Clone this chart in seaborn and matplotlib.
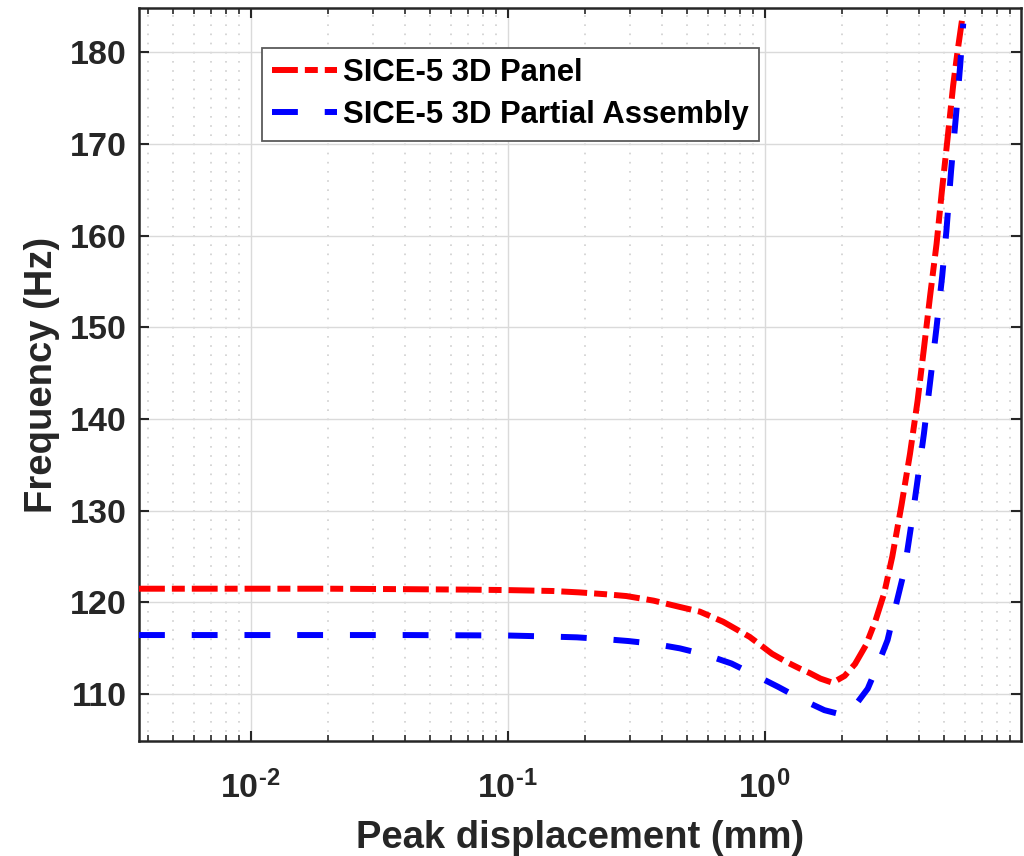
import matplotlib
matplotlib.use("Agg")
import matplotlib.pyplot as plt
import numpy as np
import pandas as pd
import seaborn as sns
from matplotlib.ticker import LogLocator, NullFormatter

# ---------------- data ----------------
panel_x = [0.00368, 0.006, 0.01, 0.02, 0.04, 0.07, 0.1, 0.15, 0.19, 0.24, 0.29,
           0.37, 0.47, 0.56, 0.69, 0.875, 1.07, 1.22, 1.37, 1.5, 1.65, 1.84,
           2.05, 2.25, 2.48, 2.7, 2.92, 3.14, 3.41, 3.68, 3.94, 4.17, 4.41,
           4.67, 4.9, 5.15, 5.42, 5.65, 5.86]
panel_y = [121.5, 121.5, 121.5, 121.5, 121.45, 121.4, 121.35, 121.25, 121.1,
           120.9, 120.7, 120.2, 119.5, 119.0, 117.9, 116.25, 114.4, 113.5,
           112.8, 112.3, 111.7, 111.25, 112.0, 113.3, 115.35, 118.0, 121.0,
           125.0, 130.6, 136.2, 142.0, 147.7, 153.5, 159.1, 164.9, 170.5,
           176.4, 180.3, 183.4]

assembly_x = [0.00368, 0.006, 0.01, 0.02, 0.04, 0.07, 0.1, 0.14, 0.186, 0.24,
              0.294, 0.37, 0.468, 0.59, 0.743, 0.9, 1.13, 1.4, 1.71, 1.95,
              2.2, 2.52, 2.75, 3.01, 3.25, 3.5, 3.71, 3.91, 4.17, 4.41, 4.66,
              4.91, 5.1, 5.32, 5.55, 5.77, 5.93]
assembly_y = [116.45, 116.45, 116.45, 116.45, 116.45, 116.42, 116.4, 116.3,
              116.2, 116.0, 115.8, 115.5, 115.0, 114.3, 113.35, 112.2, 110.8,
              109.4, 108.26, 107.85, 108.4, 110.6, 113.1, 115.9, 119.8, 123.5,
              128.2, 132.7, 138.4, 144.1, 149.8, 155.55, 160.5, 167.1, 172.9,
              178.55, 183.1]

series_labels = ["SICE-5 3D Panel", "SICE-5 3D Partial Assembly"]
ytick_values = [110, 120, 130, 140, 150, 160, 170, 180]
xtick_values = [0.01, 0.1, 1.0]
xtick_labels = [r"$\mathbf{10^{\text{-}2}}$", r"$\mathbf{10^{\text{-}1}}$",
                r"$\mathbf{10^{0}}$"]
x_label = "Peak displacement (mm)"
y_label = "Frequency (Hz)"

# ---------------- style ----------------
sns.set_theme(style="ticks")
plt.rcParams["font.family"] = ["Liberation Sans", "DejaVu Sans"]
plt.rcParams["mathtext.fontset"] = "custom"
plt.rcParams["mathtext.bf"] = "Liberation Sans:bold"
plt.rcParams["mathtext.rm"] = "Liberation Sans:bold"
plt.rcParams["mathtext.it"] = "Liberation Sans:bold"

TXT = "#262626"

fig = plt.figure(figsize=(10.24, 8.56), dpi=100)
ax = fig.add_axes([139 / 1024, 1 - 741 / 856, 882 / 1024, 733 / 856])

df_panel = pd.DataFrame({"x": panel_x, "y": panel_y})
df_asm = pd.DataFrame({"x": assembly_x, "y": assembly_y})

sns.lineplot(data=df_panel, x="x", y="y", ax=ax, color="#ff0000",
             linewidth=4.3, sort=False, estimator=None, legend=False)
sns.lineplot(data=df_asm, x="x", y="y", ax=ax, color="#0000ff",
             linewidth=4.3, sort=False, estimator=None, legend=False)

l_panel, l_asm = ax.lines[0], ax.lines[1]
l_panel.set_dashes([4.33, 1.17, 2.17, 1.17])
l_asm.set_dashes([4.33, 4.5])
for ln in (l_panel, l_asm):
    ln.set_dash_capstyle("butt")
    ln.set_solid_capstyle("butt")
    ln.set_zorder(3)

ax.set_xscale("log")
ax.set_xlim(0.00368, 9.95)
ax.set_ylim(104.9, 184.8)

ax.set_xticks(xtick_values)
ax.set_xticklabels(xtick_labels)
ax.xaxis.set_minor_locator(LogLocator(base=10, subs=np.arange(2, 10), numticks=20))
ax.xaxis.set_minor_formatter(NullFormatter())
ax.set_yticks(ytick_values)
ax.set_yticklabels([str(v) for v in ytick_values])

for lbl in ax.get_xticklabels() + ax.get_yticklabels():
    lbl.set_fontsize(24.5)
    lbl.set_fontweight("bold")
    lbl.set_color(TXT)

ax.tick_params(axis="both", which="both", direction="in", top=True, right=True,
               color=TXT)
ax.tick_params(axis="both", which="major", length=7, width=1.5)
ax.tick_params(axis="x", which="minor", length=4, width=1.2)
ax.tick_params(axis="y", which="major", pad=9)
ax.tick_params(axis="x", which="major", pad=21)

for sp in ax.spines.values():
    sp.set_color(TXT)
    sp.set_linewidth(1.8)

ax.set_axisbelow(True)
ax.grid(which="major", axis="both", color="#dadada", linewidth=1.0, linestyle="-")
ax.xaxis.grid(which="minor", color="#cfcfcf", linewidth=1.2, linestyle=(0, (1, 4.5)))

ax.set_xlabel(x_label, fontsize=27.5, fontweight="bold", color=TXT)
ax.set_ylabel(y_label, fontsize=27.5, fontweight="bold", color=TXT)
ax.xaxis.set_label_coords(0.5, -0.108)
ax.yaxis.set_label_coords(-0.09, 0.5)

leg = ax.legend(handles=[l_panel, l_asm], labels=series_labels,
                loc="upper left", bbox_to_anchor=(0.1395, 0.9454),
                borderaxespad=0, frameon=True, fancybox=False,
                edgecolor="#5a5a5a", framealpha=1,
                prop={"weight": "bold", "size": 22.3},
                handlelength=2.1, handletextpad=0.2, borderpad=0.33,
                labelspacing=0.39)
leg.get_frame().set_linewidth(1.3)
for t in leg.get_texts():
    t.set_color("black")

fig.savefig("out.png", dpi=100)
